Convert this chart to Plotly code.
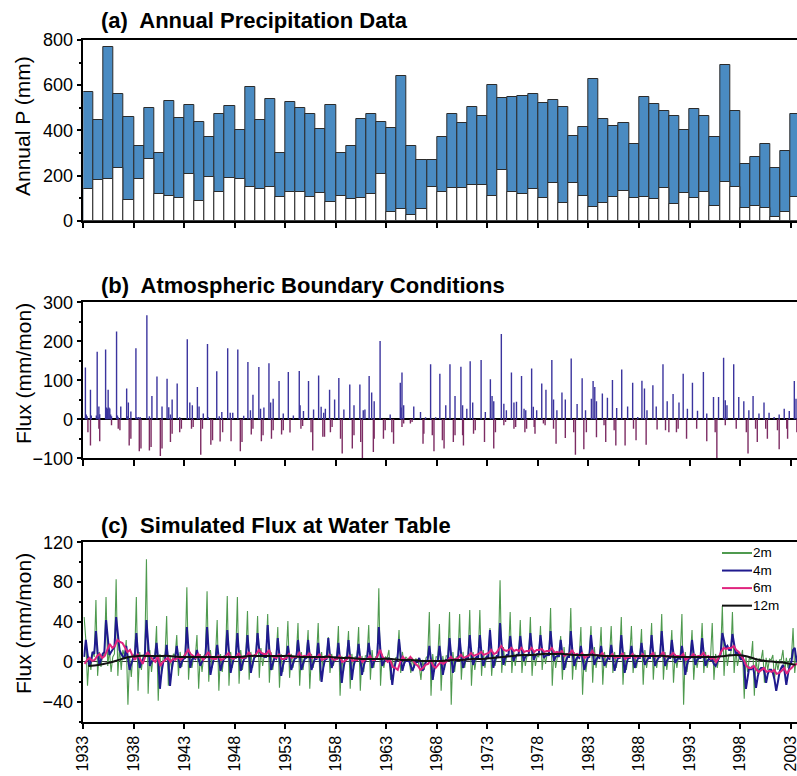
import plotly.graph_objects as go

# ---------------------------------------------------------------- data
years = list(range(1933, 2004))
year_ticks = [1933, 1938, 1943, 1948, 1953, 1958, 1963, 1968, 1973, 1978,
              1983, 1988, 1993, 1998, 2003]

# (a) annual precipitation (mm): total and lower (white) component
precip_total = [568, 446, 770, 559, 459, 331, 500, 300, 531, 455,
                514, 435, 370, 474, 509, 400, 593, 446, 537, 300,
                527, 499, 474, 406, 511, 300, 329, 449, 474, 435,
                410, 639, 331, 269, 269, 372, 474, 431, 505, 465,
                599, 545, 549, 553, 559, 520, 533, 505, 375, 413,
                627, 450, 419, 431, 339, 549, 515, 486, 465, 401,
                494, 465, 370, 689, 486, 249, 282, 338, 232, 307, 471]
precip_lower = [139, 180, 185, 232, 90, 185, 275, 117, 111, 100,
                208, 89, 195, 127, 189, 185, 151, 139, 148, 105,
                127, 127, 105, 124, 83, 111, 94, 100, 117, 208,
                37, 52, 25, 52, 148, 125, 146, 146, 158, 158,
                111, 224, 128, 117, 139, 100, 165, 77, 165, 111,
                59, 77, 106, 133, 100, 106, 94, 143, 72, 124,
                100, 128, 66, 170, 148, 55, 65, 55, 18, 40, 106]

# (b) monthly infiltration (+) per year, Jan..Dec (mm/mon)
flux_in = [
    [0, 0, 133, 12, 8, 0, 0, 0, 76, 10, 0, 0],
    [0, 0, 0, 10, 173, 5, 33, 13, 0, 0, 0, 0],
    [0, 0, 179, 30, 28, 76, 30, 28, 12, 8, 0, 0],
    [0, 0, 0, 225, 10, 5, 0, 0, 33, 0, 0, 0],
    [0, 0, 0, 79, 8, 43, 0, 0, 20, 0, 0, 0],
    [0, 0, 182, 6, 0, 6, 0, 6, 0, 0, 0, 0],
    [0, 0, 0, 267, 0, 0, 8, 0, 0, 60, 0, 0],
    [0, 0, 0, 110, 0, 0, 0, 0, 0, 33, 0, 0],
    [0, 0, 0, 104, 0, 31, 0, 12, 0, 51, 0, 0],
    [0, 0, 0, 92, 0, 0, 5, 0, 0, 0, 0, 0],
    [0, 0, 0, 205, 0, 0, 43, 0, 0, 36, 0, 0],
    [0, 0, 0, 83, 0, 33, 0, 0, 0, 0, 15, 0],
    [0, 0, 0, 193, 5, 0, 0, 0, 0, 0, 0, 0],
    [0, 0, 123, 0, 0, 8, 0, 0, 19, 0, 0, 0],
    [0, 0, 0, 182, 0, 0, 17, 0, 0, 17, 0, 0],
    [0, 0, 0, 179, 0, 0, 0, 0, 0, 0, 9, 0],
    [0, 0, 0, 147, 0, 0, 23, 0, 0, 63, 0, 0],
    [0, 0, 0, 0, 134, 0, 27, 0, 0, 0, 30, 0],
    [0, 0, 0, 0, 144, 0, 43, 0, 0, 53, 0, 0],
    [0, 0, 0, 0, 98, 0, 0, 0, 0, 15, 0, 0],
    [0, 0, 0, 121, 0, 0, 0, 0, 0, 10, 0, 0],
    [0, 0, 0, 0, 124, 36, 0, 0, 0, 21, 0, 0],
    [0, 0, 0, 98, 0, 0, 0, 0, 0, 25, 0, 0],
    [0, 0, 0, 112, 0, 0, 32, 0, 0, 17, 0, 27],
    [0, 0, 0, 0, 76, 0, 0, 0, 0, 0, 51, 0],
    [0, 0, 0, 106, 0, 0, 0, 0, 0, 25, 0, 0],
    [0, 0, 0, 0, 89, 0, 0, 0, 0, 36, 0, 0],
    [0, 0, 0, 0, 89, 0, 0, 0, 23, 0, 25, 0],
    [0, 0, 0, 111, 0, 0, 69, 0, 0, 46, 0, 0],
    [0, 0, 0, 0, 201, 0, 0, 0, 0, 0, 0, 0],
    [0, 0, 0, 0, 12, 0, 0, 0, 0, 0, 0, 0],
    [0, 0, 0, 0, 94, 30, 120, 0, 36, 0, 0, 0],
    [0, 0, 0, 0, 0, 0, 0, 0, 33, 0, 0, 0],
    [0, 0, 0, 0, 19, 0, 0, 0, 0, 0, 5, 0],
    [0, 0, 0, 0, 141, 0, 0, 0, 0, 0, 5, 0],
    [0, 0, 0, 117, 0, 0, 0, 0, 0, 0, 36, 0],
    [0, 0, 0, 141, 0, 0, 0, 0, 0, 60, 0, 0],
    [0, 0, 0, 0, 135, 0, 36, 0, 0, 0, 0, 27],
    [0, 0, 0, 149, 0, 0, 43, 0, 0, 0, 0, 0],
    [0, 0, 0, 0, 152, 0, 0, 0, 0, 19, 0, 0],
    [0, 0, 0, 103, 0, 60, 0, 46, 0, 0, 0, 0],
    [0, 0, 0, 0, 219, 0, 0, 40, 0, 0, 23, 0],
    [0, 0, 0, 0, 120, 0, 0, 43, 0, 0, 45, 0],
    [0, 0, 0, 0, 111, 0, 0, 27, 0, 23, 0, 0],
    [0, 0, 0, 0, 130, 0, 32, 0, 0, 0, 23, 0],
    [0, 0, 0, 0, 92, 0, 0, 0, 0, 76, 0, 0],
    [0, 0, 0, 0, 152, 0, 51, 0, 0, 0, 23, 0],
    [0, 0, 0, 0, 69, 0, 0, 0, 51, 0, 0, 0],
    [0, 0, 0, 156, 0, 0, 0, 0, 0, 0, 39, 0],
    [0, 0, 0, 0, 105, 0, 0, 0, 23, 0, 0, 0],
    [0, 0, 0, 53, 0, 98, 0, 83, 0, 46, 0, 0],
    [0, 0, 0, 0, 66, 0, 0, 0, 0, 0, 55, 0],
    [0, 0, 0, 0, 101, 0, 0, 0, 0, 29, 0, 0],
    [0, 0, 0, 128, 0, 0, 0, 0, 0, 0, 33, 0],
    [0, 0, 0, 0, 94, 0, 0, 0, 0, 0, 6, 0],
    [0, 0, 0, 99, 0, 0, 79, 0, 0, 23, 0, 0],
    [0, 0, 0, 0, 87, 0, 0, 0, 33, 0, 0, 0],
    [0, 0, 0, 0, 141, 0, 0, 0, 0, 46, 0, 0],
    [0, 0, 0, 0, 65, 0, 0, 0, 0, 0, 0, 43],
    [0, 0, 0, 0, 117, 0, 0, 0, 0, 27, 0, 0],
    [0, 0, 0, 94, 0, 0, 0, 0, 0, 22, 0, 0],
    [0, 0, 0, 0, 121, 0, 0, 0, 15, 0, 0, 0],
    [0, 0, 0, 0, 57, 0, 0, 0, 0, 0, 57, 0],
    [0, 0, 0, 0, 158, 0, 49, 0, 36, 0, 0, 0],
    [0, 0, 0, 0, 141, 0, 0, 0, 0, 0, 57, 0],
    [0, 0, 0, 0, 46, 0, 0, 0, 0, 0, 23, 0],
    [0, 0, 0, 60, 0, 0, 0, 0, 0, 0, 15, 0],
    [0, 0, 0, 0, 43, 0, 0, 0, 0, 0, 17, 0],
    [0, 0, 0, 0, 6, 0, 0, 0, 0, 0, 12, 0],
    [0, 0, 0, 0, 27, 0, 0, 0, 0, 0, 21, 0],
    [0, 0, 0, 0, 98, 0, 53, 0, 0, 0, 0, 0],
]

# (b) monthly evaporative loss (-) per year, Jan..Dec (mm/mon)
flux_out = [
    [0, 0, 0, 0, 0, -33, 0, 0, -67, 0, 0, 0],
    [0, 0, 0, 0, 0, 0, -24, -56, 0, 0, 0, 0],
    [0, 0, 0, 0, 0, 0, 0, 0, 0, -15, 0, 0],
    [0, 0, 0, 0, 0, -24, 0, -28, 0, 0, 0, 0],
    [0, 0, 0, 0, 0, 0, -67, 0, -50, 0, 0, 0],
    [0, 0, 0, 0, 0, 0, -82, 0, -75, 0, 0, 0],
    [0, 0, 0, 0, 0, 0, -80, 0, -71, 0, 0, 0],
    [0, 0, 0, 0, 0, 0, 0, -94, 0, -75, 0, 0],
    [0, 0, 0, 0, 0, 0, 0, -58, 0, -37, 0, 0],
    [0, 0, 0, 0, 0, 0, -33, 0, -24, 0, 0, 0],
    [0, 0, 0, 0, 0, 0, 0, 0, -24, 0, -20, 0],
    [0, 0, 0, 0, 0, 0, 0, -91, 0, -24, 0, 0],
    [0, 0, 0, 0, 0, 0, 0, -65, 0, -54, 0, 0],
    [0, 0, 0, 0, 0, 0, -57, 0, 0, -33, 0, 0],
    [0, 0, 0, 0, 0, 0, 0, -56, 0, 0, 0, 0],
    [0, 0, 0, 0, 0, 0, -82, 0, -58, 0, 0, 0],
    [0, 0, 0, 0, 0, 0, 0, -39, 0, -24, 0, 0],
    [0, 0, 0, 0, 0, 0, 0, -56, 0, -41, 0, 0],
    [0, 0, 0, 0, 0, 0, 0, -50, 0, -28, 0, 0],
    [0, 0, 0, 0, 0, 0, 0, -39, 0, -28, 0, 0],
    [0, 0, 0, 0, 0, -34, 0, 0, 0, 0, 0, 0],
    [0, 0, 0, 0, 0, 0, -24, 0, -17, 0, 0, 0],
    [0, 0, 0, 0, 0, 0, -33, 0, -80, 0, 0, 0],
    [0, 0, 0, 0, 0, 0, 0, 0, -45, 0, -45, 0],
    [0, 0, 0, 0, 0, -33, 0, -20, 0, 0, 0, 0],
    [0, 0, 0, 0, 0, -50, 0, -88, 0, 0, 0, 0],
    [0, 0, 0, 0, 0, 0, 0, -75, 0, -41, 0, 0],
    [0, 0, 0, 0, 0, -58, 0, -101, 0, 0, 0, 0],
    [0, 0, 0, 0, 0, 0, 0, 0, -84, -50, 0, 0],
    [0, 0, 0, 0, 0, 0, 0, 0, -50, 0, -28, 0],
    [0, 0, 0, 0, 0, 0, -33, 0, -63, 0, 0, 0],
    [0, 0, 0, 0, 0, 0, -20, 0, -11, 0, 0, 0],
    [0, 0, 0, 0, -11, 0, -7, 0, 0, 0, 0, 0],
    [0, 0, 0, 0, 0, 0, 0, -63, -37, 0, 0, 0],
    [0, 0, 0, 0, 0, 0, -41, 0, -82, 0, 0, 0],
    [0, 0, 0, 0, 0, 0, -54, 0, -75, 0, 0, 0],
    [0, 0, 0, 0, 0, 0, 0, -58, 0, -41, 0, 0],
    [0, 0, 0, 0, 0, 0, -41, -67, 0, 0, 0, 0],
    [0, 0, 0, 0, 0, 0, 0, -37, 0, -28, 0, 0],
    [0, 0, 0, 0, 0, 0, 0, 0, -58, 0, 0, 0],
    [0, 0, 0, 0, 0, 0, 0, -75, 0, -33, 0, 0],
    [0, 0, 0, 0, 0, 0, 0, -15, 0, -7, 0, 0],
    [0, 0, 0, 0, 0, 0, 0, -24, 0, -20, 0, 0],
    [0, 0, 0, 0, 0, 0, 0, 0, -33, 0, -24, 0],
    [0, 0, 0, 0, 0, 0, 0, -20, -37, 0, 0, 0],
    [0, 0, 0, 0, 0, 0, -11, 0, -15, 0, 0, 0],
    [0, 0, 0, 0, 0, 0, -24, 0, 0, -63, 0, 0],
    [0, 0, 0, 0, 0, 0, 0, 0, -48, 0, 0, 0],
    [0, 0, 0, 0, 0, 0, -33, 0, -91, 0, 0, 0],
    [0, 0, 0, 0, 0, 0, -77, 0, 0, -33, 0, 0],
    [0, 0, 0, 0, 0, 0, 0, 0, 0, -46, 0, 0],
    [0, 0, 0, 0, 0, 0, -15, 0, -58, 0, 0, 0],
    [0, 0, 0, 0, 0, 0, -28, 0, -67, 0, 0, 0],
    [0, 0, 0, 0, 0, 0, 0, -67, 0, 0, 0, 0],
    [0, 0, 0, 0, 0, -24, 0, 0, -54, 0, 0, 0],
    [0, 0, 0, 0, 0, 0, 0, 0, -65, 0, 0, 0],
    [0, 0, 0, 0, 0, 0, 0, 0, 0, -26, 0, 0],
    [0, 0, 0, 0, 0, 0, 0, -28, 0, 0, 0, -33],
    [0, 0, 0, 0, 0, 0, 0, 0, -33, 0, -24, 0],
    [0, 0, 0, 0, 0, 0, 0, 0, -50, 0, 0, 0],
    [0, 0, 0, 0, 0, 0, 0, 0, -24, 0, 0, 0],
    [0, 0, 0, 0, 0, 0, 0, 0, -56, 0, 0, 0],
    [0, 0, 0, 0, 0, 0, -33, 0, -101, 0, 0, 0],
    [0, 0, 0, 0, 0, 0, -15, 0, 0, 0, 0, 0],
    [0, 0, 0, 0, 0, 0, 0, -24, 0, 0, 0, 0],
    [0, 0, 0, 0, 0, 0, 0, -33, 0, -88, 0, 0],
    [0, 0, 0, 0, 0, 0, -24, 0, -58, 0, 0, 0],
    [0, 0, 0, 0, 0, 0, -24, 0, -50, 0, 0, 0],
    [0, 0, 0, 0, 0, 0, 0, 0, -28, 0, -77, 0],
    [0, 0, 0, 0, 0, 0, 0, -24, -50, 0, 0, 0],
    [0, 0, 0, 0, 0, 0, 0, -33, 0, 0, 0, 0],
]

# (c) water-table flux, 2 m depth: bimonthly values per year
flux_2m = [
    [45, 22, -24, 5, -8, 10], [5, 62, -14, 10, -5, 8], [5, 65, -4, 12, -10, 5],
    [8, 83, -14, 15, -8, 12], [5, 22, -43, 5, -15, 8], [5, 65, -29, 10, -8, 6],
    [8, 103, -32, 12, -10, 5], [5, 36, -39, 8, -12, 5], [5, 46, -24, 6, -8, 8],
    [6, 27, -14, 10, -5, 6], [8, 75, -18, 10, -6, 5], [5, 27, -27, 8, -10, 6],
    [8, 71, -20, 12, -6, 5], [5, 42, -29, 8, -10, 6], [6, 66, -24, 10, -6, 5],
    [5, 65, -22, 12, -8, 6], [6, 51, -18, 10, -6, 5], [5, 46, -16, 14, -4, 6],
    [6, 48, -21, 10, -8, 5], [5, 35, -26, 8, -10, 6], [6, 41, -16, 8, -6, 5],
    [5, 39, -24, 10, -8, 6], [6, 32, -27, 8, -6, 5], [5, 39, -19, 10, -8, 6],
    [6, 25, -11, 8, -4, 5], [5, 36, -34, 6, -10, 5], [6, 31, -27, 8, -8, 5],
    [5, 35, -29, 6, -10, 6], [6, 37, -18, 12, -6, 5], [5, 74, -24, 8, -6, 5],
    [4, 12, -18, 2, -8, 4], [5, 32, -11, 10, -4, 5], [3, 2, -11, 4, -6, 3],
    [2, -4, -18, 2, -8, 4], [6, 50, -34, 8, -10, 5], [5, 38, -29, 6, -8, 6],
    [6, 50, -43, 10, -10, 5], [5, 48, -18, 10, -6, 6], [6, 52, -24, 10, -8, 5],
    [5, 52, -14, 12, -6, 6], [6, 34, -14, 10, -4, 5], [8, 82, -11, 15, -4, 6],
    [6, 50, -11, 12, -4, 8], [6, 42, -11, 10, -4, 6], [6, 45, -14, 12, -4, 6],
    [5, 36, -8, 10, -2, 8], [6, 54, -24, 12, -6, 5], [5, 26, -18, 15, -6, 6],
    [6, 54, -18, 10, -8, 5], [5, 35, -33, 8, -10, 6], [8, 36, -21, 15, -6, 6],
    [5, 35, -23, 10, -6, 6], [6, 36, -11, 10, -6, 5], [6, 45, -23, 10, -8, 6],
    [5, 36, -11, 8, -6, 5], [6, 33, -23, 12, -6, 5], [5, 39, -18, 10, -6, 6],
    [6, 48, -18, 10, -8, 5], [5, 32, -21, 8, -6, 6], [6, 48, -43, 10, -10, 5],
    [5, 32, -18, 8, -6, 5], [6, 39, -11, 10, -6, 5], [5, 39, -18, 8, -6, 6],
    [8, 56, -14, 15, -4, 8], [6, 50, -11, 12, -4, 5], [3, 12, -37, 5, -10, 4],
    [2, 21, -34, 4, -12, 3], [2, 12, -21, 4, -8, 3], [2, 7, -18, 2, -8, 2],
    [2, 12, -11, 4, -6, 3], [4, 34, -11, 6, -4, 2],
]

# (c) 4 m depth: bimonthly values per year
flux_4m = [
    [5, 22, 8, -4, 0, 10], [8, 31, 10, -3, 2, 8], [10, 42, 25, 7, 10, 12],
    [15, 45, 30, 12, 8, 5], [3, 16, 5, -8, -2, 3], [4, 29, 8, -6, 0, 3],
    [5, 42, 15, -4, 0, 3], [4, 19, 2, -27, -10, 0], [2, 17, 0, -24, -8, 2],
    [3, 16, 4, -6, 0, 3], [4, 35, 12, -6, 2, 4], [3, 12, 3, -4, 0, 3],
    [4, 35, 10, -13, -4, 3], [3, 17, 4, -9, -2, 3], [4, 32, 10, -11, -2, 4],
    [4, 29, 8, -9, -2, 3], [4, 27, 8, -11, -2, 4], [6, 29, 12, 7, 8, 5],
    [5, 37, 12, -8, -2, 4], [3, 24, 6, -14, -4, 3], [3, 16, 4, -8, -2, 3],
    [4, 22, 6, -8, -2, 3], [4, 22, 6, -8, -2, 3], [3, 19, 2, -20, -6, 2],
    [3, 24, 6, -6, 0, 3], [3, 19, 2, -21, -6, 2], [3, 22, 4, -18, -4, 2],
    [3, 18, 3, -13, -4, 2], [3, 19, 6, -6, 0, 3], [4, 35, 10, -4, 0, 3],
    [2, 4, -6, -23, -8, 0], [2, 23, 6, -9, -2, 2], [1, 1, -4, -9, -4, 0],
    [0, 4, -2, -9, -4, 0], [2, 16, 2, -18, -6, 1], [1, 16, 2, -13, -4, 2],
    [2, 24, 6, -11, -2, 3], [3, 24, 6, -6, 0, 4], [4, 27, 8, -3, 2, 5],
    [5, 27, 8, -4, 2, 5], [5, 32, 10, -6, 2, 6], [6, 39, 15, -3, 4, 7],
    [7, 26, 12, 1, 5, 7], [7, 26, 12, 1, 5, 7], [7, 29, 12, 2, 6, 8],
    [8, 27, 12, 4, 6, 7], [7, 31, 12, 1, 5, 6], [6, 22, 8, -8, 0, 5],
    [5, 31, 10, -4, 2, 5], [4, 16, 4, -8, -2, 4], [5, 27, 10, -3, 2, 5],
    [4, 16, 4, -4, 0, 4], [3, 17, 5, -9, -1, 4], [4, 27, 8, -11, -2, 4],
    [4, 16, 4, -6, 0, 4], [4, 19, 6, -3, 1, 4], [4, 27, 8, -4, 1, 4],
    [5, 31, 10, -4, 1, 4], [4, 22, 8, -1, 2, 4], [3, 16, 4, -13, -3, 3],
    [4, 22, 8, -3, 2, 4], [4, 24, 8, -4, 1, 3], [2, 2, -2, -4, 0, 4],
    [8, 29, 20, 14, 16, 12], [12, 28, 18, 7, 10, 6], [2, 7, -5, -27, -15, -5],
    [-8, -4, -12, -26, -15, -8], [-6, -6, -10, -21, -12, -8],
    [-8, -11, -18, -29, -20, -10], [-6, -3, -10, -23, -12, -4],
    [0, 12, 14, 2, -2, -5],
]

# (c) 6 m depth: quarterly values per year
flux_6m = [
    [-2, 2, 4, 1], [2, 6, 8, 4], [6, 12, 18, 14], [16, 22, 20, 19],
    [14, 10, 12, 6], [2, 8, 3, -2], [5, 10, 6, 2], [0, 6, -4, 0],
    [2, 4, 0, 3], [2, 5, 2, 4], [8, 12, 8, 6], [4, 8, 5, 2],
    [6, 10, 4, 3], [3, 6, 2, 3], [6, 9, 4, 3], [5, 9, 4, 4],
    [5, 10, 6, 6], [8, 12, 9, 8], [8, 12, 6, 5], [4, 8, 3, 3],
    [4, 8, 4, 5], [5, 9, 5, 6], [5, 9, 4, 5], [4, 8, 2, 3],
    [4, 7, 3, 2], [3, 6, 0, 1], [3, 6, 1, 2], [2, 5, 0, 2],
    [3, 6, 2, 2], [6, 12, 5, 3], [0, 2, -5, -6], [-8, 0, 5, 2],
    [2, 5, 1, -2], [-4, -8, -6, -3], [-2, 2, -4, -6], [-3, 0, -2, 0],
    [2, 5, 2, 3], [4, 7, 4, 5], [6, 9, 6, 7], [8, 10, 7, 8],
    [9, 12, 8, 9], [12, 16, 12, 11], [12, 14, 11, 12], [11, 14, 10, 11],
    [11, 14, 10, 12], [12, 13, 10, 11], [11, 14, 9, 10], [9, 11, 6, 8],
    [8, 12, 7, 8], [6, 9, 4, 6], [7, 11, 7, 7], [6, 9, 5, 6],
    [5, 8, 4, 5], [5, 9, 3, 5], [5, 8, 4, 6], [5, 8, 5, 6],
    [6, 9, 5, 6], [6, 10, 5, 6], [6, 9, 6, 6], [5, 8, 2, 4],
    [5, 8, 5, 6], [6, 9, 5, 6], [3, 4, 0, 4], [10, 14, 13, 14],
    [14, 16, 12, 10], [6, 2, -4, -6], [-6, -4, -8, -10], [-8, -6, -10, -9],
    [-10, -8, -12, -11], [-9, -6, -12, -8], [-6, -3, -2, -4],
]

# (c) 12 m depth: annual mean values
flux_12m = [-4, -3, -1, 2, 5, 6, 6, 6, 6, 5, 5, 5, 5, 5, 5, 5, 6, 6, 6, 6,
            6, 5, 5, 5, 5, 4, 4, 3, 3, 3, 3, 2, 2, 1, 1, 1, 2, 2, 3, 3,
            4, 5, 6, 7, 7, 8, 8, 8, 7, 7, 7, 6, 6, 6, 6, 6, 6, 6, 5, 5,
            5, 5, 5, 6, 7, 6, 3, 1, 0, -1, -3]

depth_names = ["2m", "4m", "6m", "12m"]
depth_colors = ["#4f9a4f", "#1f1a8e", "#e0247e", "#111111"]

# ---------------------------------------------------------------- helpers
FONT = "Liberation Sans, Arial, sans-serif"
W, H = 797, 776


def px_x(p):
    return p / W


def px_y(p):
    return 1 - p / H


def sticks(rows):
    xs, ys = [], []
    for yr, row in zip(years, rows):
        for m, v in enumerate(row):
            if v != 0:
                t = yr + (m + 0.5) / 12
                xs += [t, t, None]
                ys += [0, v, None]
    return xs, ys


def series(rows):
    xs, ys = [], []
    for yr, row in zip(years, rows):
        n = len(row)
        for k, v in enumerate(row):
            xs.append(yr + (k + 0.5) / n)
            ys.append(v)
    return xs, ys


fig = go.Figure()

# (a) precipitation bars
bar_x = [y + 0.5 for y in years]
fig.add_trace(go.Bar(x=bar_x, y=precip_total, width=1, xaxis="x", yaxis="y",
                     marker=dict(color="#4a8bc2", line=dict(color="#2b2b2b", width=1)),
                     showlegend=False))
fig.add_trace(go.Bar(x=bar_x, y=precip_lower, width=1, xaxis="x", yaxis="y",
                     marker=dict(color="white", line=dict(color="#2b2b2b", width=1)),
                     showlegend=False))

# (b) boundary fluxes
xi, yi = sticks(flux_in)
xo, yo = sticks(flux_out)
fig.add_trace(go.Scatter(x=xo, y=yo, mode="lines", xaxis="x2", yaxis="y2",
                         line=dict(color="#7d2c63", width=1.4), showlegend=False))
fig.add_trace(go.Scatter(x=xi, y=yi, mode="lines", xaxis="x2", yaxis="y2",
                         line=dict(color="#3b349e", width=1.4), showlegend=False))

# (c) water-table fluxes
widths = [1.1, 2, 2, 2]
for name, rows, col, w in zip(depth_names, [flux_2m, flux_4m, flux_6m], depth_colors, widths):
    sx, sy = series(rows)
    fig.add_trace(go.Scatter(x=sx, y=sy, mode="lines", name=name, xaxis="x3", yaxis="y3",
                             line=dict(color=col, width=w), showlegend=False))
fig.add_trace(go.Scatter(x=[y + 0.5 for y in years], y=flux_12m, mode="lines", name="12m",
                         xaxis="x3", yaxis="y3", line=dict(color=depth_colors[3], width=2),
                         line_shape="spline", showlegend=False))

# ---------------------------------------------------------------- axes
x_dom = [px_x(83.3), 1.0]
x_rng = [1933, 2003.64]
xcommon = dict(range=x_rng, domain=x_dom, showline=True, linecolor="black", linewidth=1.5,
               mirror=True, ticks="outside", ticklen=6, tickwidth=1.5, tickcolor="black",
               tickvals=year_ticks, showgrid=False, zeroline=False, automargin=False)
ycommon = dict(showline=True, linecolor="black", linewidth=1.5, ticks="outside", ticklen=5,
               tickwidth=1.5, tickcolor="black", showgrid=False, automargin=False,
               tickfont=dict(family=FONT, size=18, color="black"))

fig.update_layout(
    width=W, height=H, margin=dict(l=0, r=0, t=0, b=0, pad=0),
    paper_bgcolor="white", plot_bgcolor="white", barmode="overlay", bargap=0,
    font=dict(family=FONT, color="black"),
    xaxis=dict(**xcommon, anchor="y", showticklabels=False),
    yaxis=dict(**ycommon, domain=[px_y(220.7), px_y(40)], range=[0, 800],
               tickvals=[0, 200, 400, 600, 800], zeroline=False,
               minor=dict(dtick=100, ticks="outside", ticklen=3, tickcolor="black")),
    xaxis2=dict(**xcommon, anchor="y2", showticklabels=False),
    yaxis2=dict(**ycommon, domain=[px_y(458.3), px_y(302.3)], range=[-100, 300],
                tickvals=[-100, 0, 100, 200, 300], zeroline=True, zerolinecolor="black",
                zerolinewidth=1.5,
                minor=dict(dtick=50, ticks="outside", ticklen=3, tickcolor="black")),
    xaxis3=dict(**xcommon, anchor="y3", showticklabels=True, tickangle=-90,
                ticklabeloverflow="allow",
                tickfont=dict(family=FONT, size=16, color="black")),
    yaxis3=dict(**ycommon, domain=[px_y(721.7), px_y(542.3)], range=[-60, 120],
                tickvals=[-40, 0, 40, 80, 120], zeroline=True, zerolinecolor="#333333",
                zerolinewidth=1,
                minor=dict(dtick=20, ticks="outside", ticklen=3, tickcolor="black")),
)

# ---------------------------------------------------------------- text
titles = ["(a)  Annual Precipitation Data", "(b)  Atmospheric Boundary Conditions",
          "(c)  Simulated Flux at Water Table"]
title_y = [20, 285, 525]
for t, yy in zip(titles, title_y):
    fig.add_annotation(text="<b>" + t + "</b>", x=px_x(99), y=px_y(yy), xref="paper",
                       yref="paper", xanchor="left", yanchor="middle", showarrow=False,
                       font=dict(family=FONT, size=22, color="black"))

ytitles = ["Annual P (mm)", "Flux (mm/mon)", "Flux (mm/mon)"]
ytitle_y = [126, 374, 624]
for t, yy in zip(ytitles, ytitle_y):
    fig.add_annotation(text=t, x=px_x(23), y=px_y(yy), xref="paper", yref="paper",
                       xanchor="center", yanchor="middle", textangle=-90, showarrow=False,
                       font=dict(family=FONT, size=21, color="black"))

# legend for panel (c): one text block, one sample line per row
LEG_FONT = 13.5
leg_step = LEG_FONT * 1.3
leg_top = 553
fig.add_annotation(text="<br>".join(depth_names), x=px_x(752), y=px_y(leg_top - leg_step / 2),
                   xref="paper", yref="paper", xanchor="left", yanchor="top", align="left",
                   showarrow=False, borderpad=0,
                   font=dict(family=FONT, size=LEG_FONT, color="black"))
for k, col in enumerate(depth_colors):
    yy = leg_top + k * leg_step
    fig.add_shape(type="line", xref="paper", yref="paper", x0=px_x(722), x1=px_x(752),
                  y0=px_y(yy), y1=px_y(yy), line=dict(color=col, width=2))

fig.write_html("out.html")
